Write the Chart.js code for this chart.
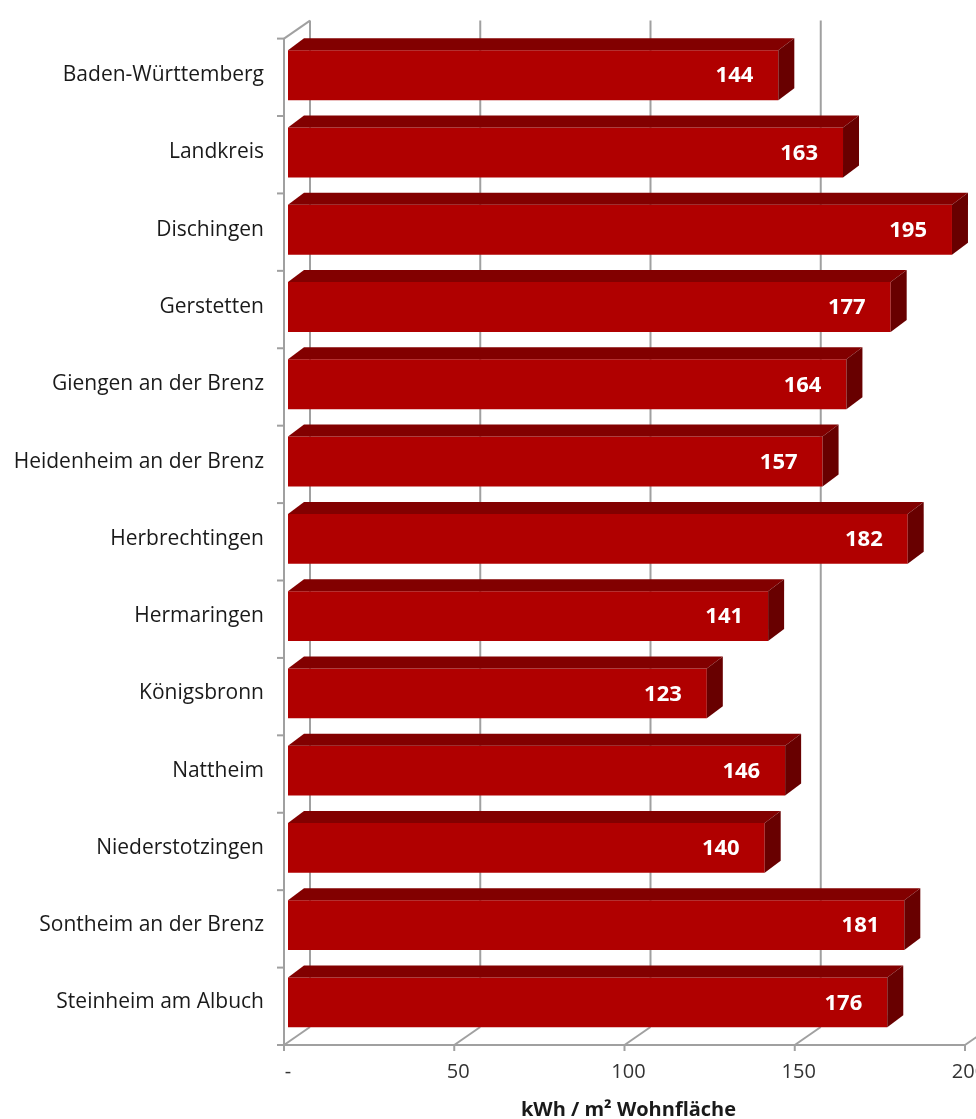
<!DOCTYPE html>
<html lang="de">
<head>
<meta charset="UTF-8">
<title>Wärmebedarf je m² Wohnfläche</title>
<script src="https://cdn.jsdelivr.net/npm/chart.js"></script>
<style>
  html, body { margin: 0; padding: 0; background: #fff; }
  #wrap { width: 976px; height: 1119px; }
</style>
</head>
<body>
<div id="wrap"><canvas id="chart" width="976" height="1119"></canvas></div>
<script>
const categories = [
  'Baden-Württemberg', 'Landkreis', 'Dischingen', 'Gerstetten',
  'Giengen an der Brenz', 'Heidenheim an der Brenz', 'Herbrechtingen',
  'Hermaringen', 'Königsbronn', 'Nattheim', 'Niederstotzingen',
  'Sontheim an der Brenz', 'Steinheim am Albuch'
];
const values = [144, 163, 195, 177, 164, 157, 182, 141, 123, 146, 140, 181, 176];
const xTicks = [0, 50, 100, 150, 200];
const xTickLabels = ['-', '50', '100', '150', '200'];

const FONT = "'Open Sans', 'Noto Sans', sans-serif";
const FRONT = '#b00000', TOP = '#820000', SIDE = '#680000';
const GRID = '#a0a0a0';
const BAR_D = { dx: 16, dy: 12 };   // depth of each bar
const WALL_D = { dx: 26, dy: 18 };  // depth of the back wall
const AXIS_SHIFT = -4;              // axis frame sits a bit left of the bar bases

function line(ctx, x1, y1, x2, y2) {
  ctx.beginPath(); ctx.moveTo(x1, y1); ctx.lineTo(x2, y2); ctx.stroke();
}

// back wall, floor and axis frame of the 3D box
const frame3d = {
  id: 'frame3d',
  beforeDatasetsDraw(chart) {
    const { ctx, chartArea: a, scales: { x } } = chart;
    const topY = a.top + 2, floorY = a.bottom + 4;
    const px = v => x.getPixelForValue(v) + AXIS_SHIFT;
    ctx.save();
    ctx.strokeStyle = GRID;
    ctx.lineWidth = 2;
    xTicks.forEach(v => {
      const p = px(v);
      line(ctx, p + WALL_D.dx, topY - WALL_D.dy, p + WALL_D.dx, floorY - WALL_D.dy);
      line(ctx, p, floorY, p + WALL_D.dx, floorY - WALL_D.dy);
      line(ctx, p, floorY, p, floorY + 6);
    });
    const x0 = px(0);
    line(ctx, x0, floorY, px(200), floorY);
    line(ctx, x0, topY, x0, floorY);
    line(ctx, x0, topY, x0 + WALL_D.dx, topY - WALL_D.dy);
    const n = categories.length;
    for (let i = 0; i <= n; i++) {
      const yy = topY + i * (floorY - topY) / n;
      line(ctx, x0 - 7, yy, x0, yy);
    }
    ctx.restore();
  },
  afterDatasetsDraw(chart) {
    const { ctx } = chart;
    const meta = chart.getDatasetMeta(0);
    ctx.save();
    meta.data.forEach((bar, i) => {
      const { x, y, base, height } = bar.getProps(['x', 'y', 'base', 'height'], true);
      const y0 = y - height / 2, y1 = y + height / 2;
      // top face
      ctx.fillStyle = TOP;
      ctx.beginPath();
      ctx.moveTo(base, y0);
      ctx.lineTo(base + BAR_D.dx, y0 - BAR_D.dy);
      ctx.lineTo(x + BAR_D.dx, y0 - BAR_D.dy);
      ctx.lineTo(x, y0);
      ctx.closePath();
      ctx.fill();
      // right face
      ctx.fillStyle = SIDE;
      ctx.beginPath();
      ctx.moveTo(x, y0);
      ctx.lineTo(x + BAR_D.dx, y0 - BAR_D.dy);
      ctx.lineTo(x + BAR_D.dx, y1 - BAR_D.dy);
      ctx.lineTo(x, y1);
      ctx.closePath();
      ctx.fill();
      // value label
      ctx.fillStyle = '#fff';
      ctx.font = 'bold 22px ' + FONT;
      ctx.textAlign = 'right';
      ctx.textBaseline = 'middle';
      ctx.fillText(String(values[i]), x - 25, y + 1);
    });
    ctx.restore();
  }
};

new Chart(document.getElementById('chart'), {
  type: 'bar',
  data: {
    labels: categories,
    datasets: [{
      data: values,
      backgroundColor: FRONT,
      borderWidth: 0,
      barPercentage: 0.645,
      categoryPercentage: 1
    }]
  },
  options: {
    indexAxis: 'y',
    responsive: false,
    animation: false,
    layout: { padding: { top: 33, right: 7, bottom: 0, left: 0 } },
    plugins: { legend: { display: false }, tooltip: { enabled: false } },
    scales: {
      x: {
        min: 0, max: 200,
        afterBuildTicks: s => { s.ticks = xTicks.map(v => ({ value: v })); },
        afterFit: s => { s.height = 78; s.paddingLeft = 0; s.paddingRight = 0; },
        grid: { display: false, drawTicks: false },
        border: { display: false },
        ticks: {
          padding: 19,
          color: '#333',
          font: { family: FONT, size: 20 },
          callback: v => xTickLabels[xTicks.indexOf(v)]
        },
        title: {
          display: true,
          text: 'kWh / m² Wohnfläche',
          color: '#1a1a1a',
          font: { family: FONT, size: 20, weight: 'bold' },
          padding: { top: 0, bottom: -3 }
        }
      },
      y: {
        afterFit: s => { s.width = 288; },
        grid: { display: false, drawTicks: false },
        border: { display: false },
        ticks: {
          padding: 24,
          color: '#1a1a1a',
          font: { family: FONT, size: 21 }
        }
      }
    }
  },
  plugins: [frame3d]
});
</script>
</body>
</html>
